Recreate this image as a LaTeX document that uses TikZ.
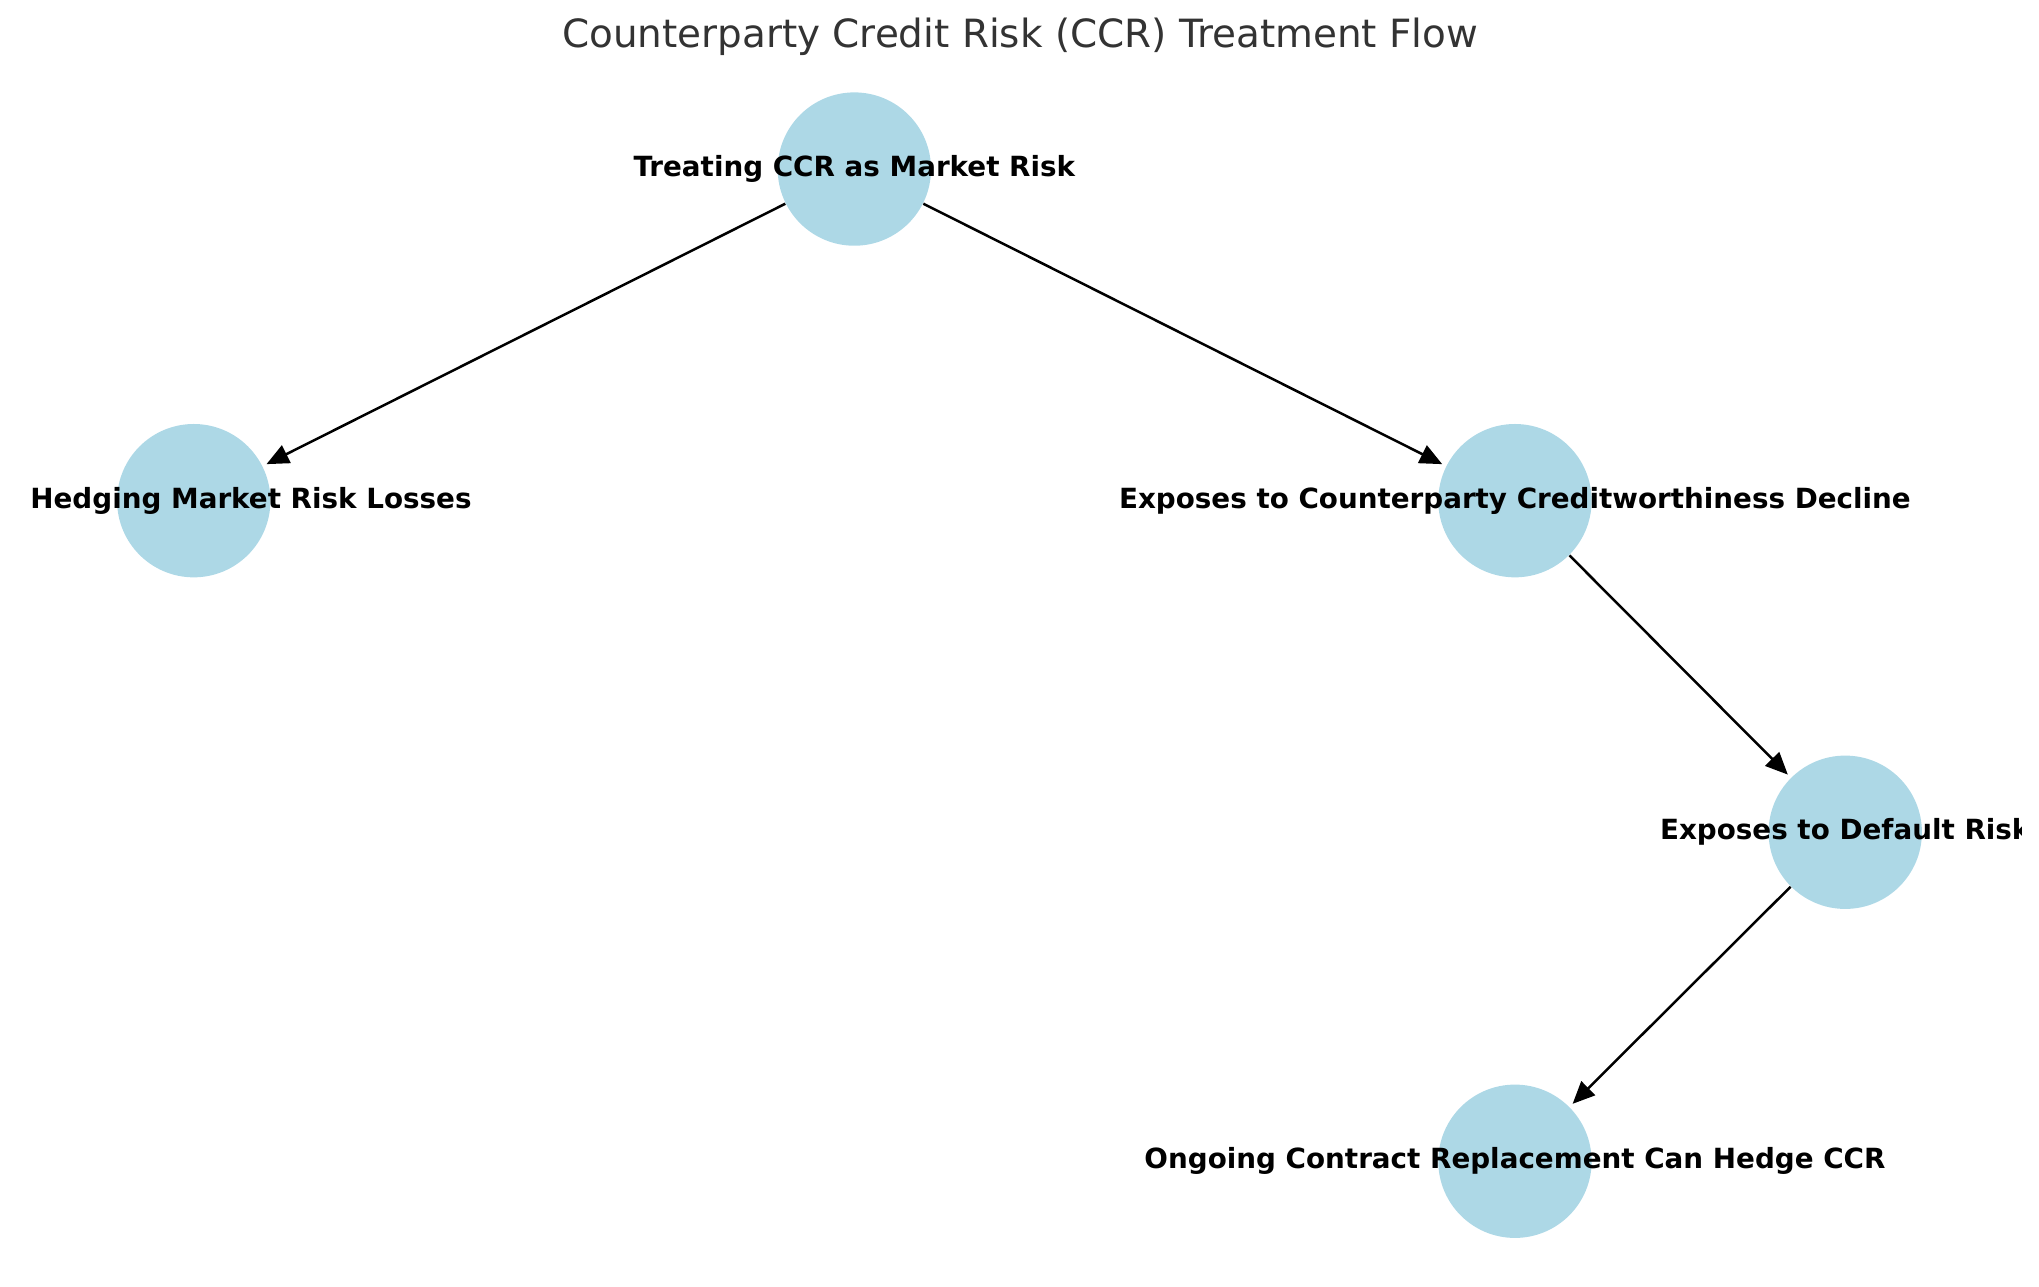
\documentclass[tikz,border=0pt]{standalone}
\usepackage{fontspec}
\setmainfont{DejaVu Sans}
\usetikzlibrary{arrows.meta}
\definecolor{lb}{HTML}{ADD8E6}
\definecolor{titlegray}{HTML}{333333}
\begin{document}
\begin{tikzpicture}[x=0.4681pt,y=-0.4681pt,
  dot/.style={circle,fill=lb,draw=none,minimum size=55.2pt,inner sep=0pt},
  lbl/.style={font=\fontsize{10}{12}\selectfont\bfseries,text=black,inner sep=0pt},
  edge/.style={-{Triangle[length=8pt,width=7pt]},line width=0.9pt,shorten >=1.5pt}]
\useasboundingbox (0,0) rectangle (1568,989);
\node[font=\fontsize{14}{16}\selectfont,text=titlegray,inner sep=0pt] (title) at (784.5,28) {Counterparty Credit Risk (CCR) Treatment Flow};
\node[dot] (t) at (657,130) {};
\node[dot] (h) at (149,385) {};
\node[dot] (e) at (1165,385) {};
\node[dot] (d) at (1419,640) {};
\node[dot] (o) at (1165,893) {};
\draw[edge] (t) -- (h);
\draw[edge] (t) -- (e);
\draw[edge] (e) -- (d);
\draw[edge] (d) -- (o);
\node[lbl] (tl) at (t) {Treating CCR as Market Risk};
\node[lbl,anchor=west] (hl) at ([xshift=-59pt]h.center) {Hedging Market Risk Losses};
\node[lbl] (el) at (e) {Exposes to Counterparty Creditworthiness Decline};
\begin{scope}
\clip (0,0) rectangle (1554.6,989);
\node[lbl] (dl) at (d) {Exposes to Default Risk};
\end{scope}
\node[lbl] (ol) at (o) {Ongoing Contract Replacement Can Hedge CCR};
\end{tikzpicture}
\end{document}
